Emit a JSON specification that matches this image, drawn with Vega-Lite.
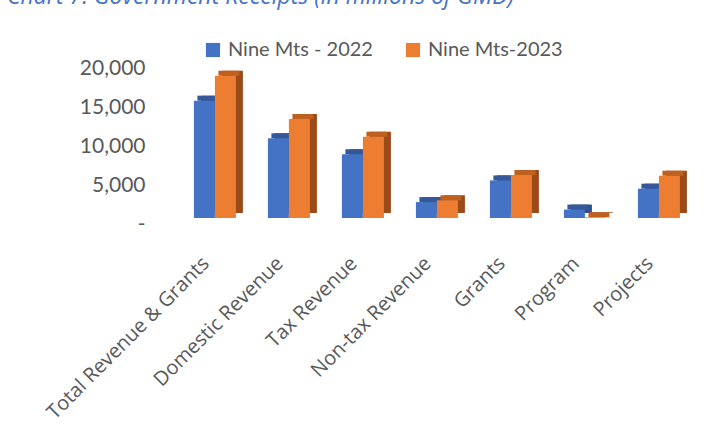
{
  "$schema": "https://vega.github.io/schema/vega-lite/v6.json",
  "autosize": {"type": "none"},
  "width": 518,
  "height": 156,
  "padding": {"left": 178, "top": 62, "right": 28, "bottom": 212},
  "background": "white",
  "title": {
    "text": "Chart 7: Government Receipts (in millions of GMD)",
    "anchor": "start",
    "dx": -36,
    "offset": 31,
    "font": "Open Sans",
    "fontSize": 23,
    "fontStyle": "italic",
    "fontWeight": "normal",
    "color": "#4472C4"
  },
  "data": {
    "values": [
      {"category": "Total Revenue & Grants", "series": "Nine Mts - 2022", "value": 15040},
      {"category": "Total Revenue & Grants", "series": "Nine Mts-2023", "value": 18240},
      {"category": "Domestic Revenue", "series": "Nine Mts - 2022", "value": 10220},
      {"category": "Domestic Revenue", "series": "Nine Mts-2023", "value": 12690},
      {"category": "Tax Revenue", "series": "Nine Mts - 2022", "value": 8170},
      {"category": "Tax Revenue", "series": "Nine Mts-2023", "value": 10420},
      {"category": "Non-tax Revenue", "series": "Nine Mts - 2022", "value": 2040},
      {"category": "Non-tax Revenue", "series": "Nine Mts-2023", "value": 2270},
      {"category": "Grants", "series": "Nine Mts - 2022", "value": 4820},
      {"category": "Grants", "series": "Nine Mts-2023", "value": 5510},
      {"category": "Program", "series": "Nine Mts - 2022", "value": 1080},
      {"category": "Program", "series": "Nine Mts-2023", "value": 90},
      {"category": "Projects", "series": "Nine Mts - 2022", "value": 3760},
      {"category": "Projects", "series": "Nine Mts-2023", "value": 5420}
    ]
  },
  "encoding": {
    "x": {
      "field": "category",
      "type": "nominal",
      "sort": null,
      "scale": {"paddingInner": 0.43, "paddingOuter": 0.215},
      "axis": {
        "title": null,
        "labelAngle": -45,
        "labelFont": "Open Sans",
        "labelFontSize": 20,
        "labelColor": "#595959",
        "labelPadding": 35,
        "labelOffset": -16,
        "labelLimit": 400,
        "domain": false,
        "ticks": false
      }
    },
    "y": {
      "field": "value",
      "type": "quantitative",
      "scale": {"domain": [0, 20000], "nice": false},
      "axis": {
        "title": null,
        "values": [0, 5000, 10000, 15000, 20000],
        "labelExpr": "datum.value == 0 ? '-' : format(datum.value, ',')",
        "labelFont": "Lato",
        "labelFontSize": 21,
        "labelColor": "#595959",
        "labelPadding": 33,
        "labelOffset": 6,
        "domain": false,
        "ticks": false,
        "grid": false
      }
    }
  },
  "layer": [
    {
      "mark": {"type": "bar", "yOffset": -5, "y2Offset": -5},
      "encoding": {
        "xOffset": {"field": "series", "type": "nominal", "sort": null, "scale": {"range": [7, 49]}},
        "fill": {
          "condition": {"test": "datum.series == 'Nine Mts - 2022'", "value": "#2E4F8C"},
          "value": "#9B4B1A"
        }
      }
    },
    {
      "mark": {"type": "bar", "yOffset": -5, "y2Offset": 0},
      "encoding": {
        "xOffset": {"field": "series", "type": "nominal", "sort": null, "scale": {"range": [3.5, 45.5]}},
        "y2": {"field": "value"},
        "fill": {
          "condition": {"test": "datum.series == 'Nine Mts - 2022'", "value": "#34589A"},
          "value": "#C0601F"
        }
      }
    },
    {
      "mark": {"type": "bar"},
      "encoding": {
        "xOffset": {"field": "series", "type": "nominal", "sort": null, "scale": {"range": [0, 42]}},
        "color": {
          "field": "series",
          "type": "nominal",
          "sort": null,
          "scale": {"range": ["#4472C4", "#ED7D31"]},
          "legend": {
            "title": null,
            "orient": "none",
            "legendX": 25,
            "legendY": -22,
            "direction": "horizontal",
            "symbolType": "square",
            "symbolSize": 200,
            "symbolStrokeWidth": 0,
            "labelFont": "Lato",
            "labelFontSize": 20,
            "labelColor": "#595959",
            "columnPadding": 30,
            "labelOffset": 5
          }
        }
      }
    }
  ],
  "resolve": {"scale": {"xOffset": "independent"}},
  "config": {"view": {"stroke": null}}
}
